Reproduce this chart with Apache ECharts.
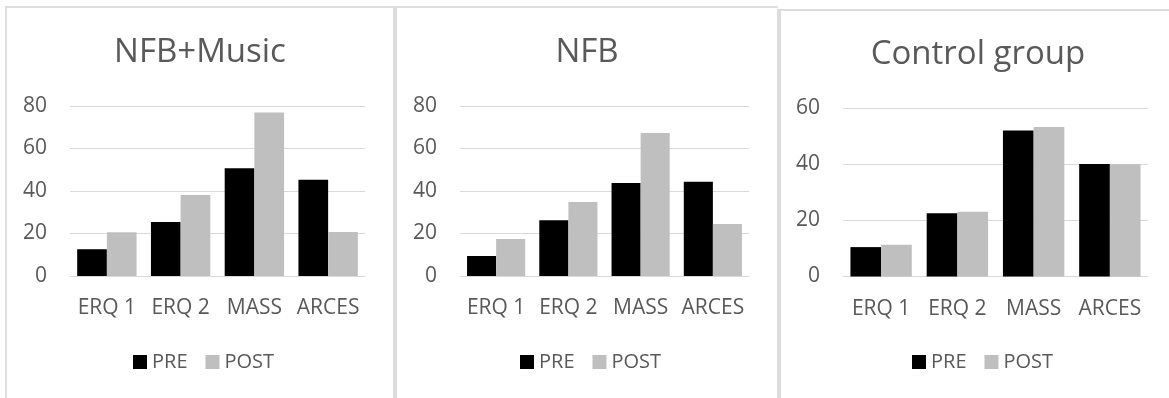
<!DOCTYPE html>
<html>
<head>
<meta charset="utf-8">
<script src="https://cdn.jsdelivr.net/npm/echarts@6/dist/echarts.min.js"></script>
<style>
  html, body { margin: 0; padding: 0; background: #fff; }
  #chart { width: 1169px; height: 398px; }
</style>
</head>
<body>
<div id="chart"></div>
<script>
const categories = ['ERQ 1', 'ERQ 2', 'MASS', 'ARCES'];
const panelTitles = ['NFB+Music', 'NFB', 'Control group'];
const seriesNames = ['PRE', 'POST'];

const nfbMusicPre  = [12.6, 25.4, 50.7, 45.3];
const nfbMusicPost = [20.6, 38.1, 77.0, 20.7];
const nfbPre       = [9.4, 26.2, 43.8, 44.4];
const nfbPost      = [17.4, 34.8, 67.3, 24.5];
const controlPre   = [10.5, 22.6, 52.1, 40.2];
const controlPost  = [11.3, 23.1, 53.4, 40.1];

const yMax = [80, 80, 60];
const yInterval = [20, 20, 20];

const panelData = [
  [nfbMusicPre, nfbMusicPost],
  [nfbPre, nfbPost],
  [controlPre, controlPost]
];

// layout (pixels)
const grids = [
  { left: 70,  top: 106,   width: 295, height: 170 },
  { left: 460, top: 106,   width: 289, height: 170 },
  { left: 843, top: 108.5, width: 305, height: 168 }
];
const titleCenters = [200, 587, 978];
const titleTops = [36, 36, 38];
const legendLefts = [133, 520, 912];

const FONT = '"Open Sans", "Noto Sans", sans-serif';
const TEXT = '#595959';
const GRIDC = '#d9d9d9';
const colors = ['#000000', '#bfbfbf'];

const option = {
  animation: false,
  backgroundColor: '#ffffff',
  textStyle: { fontFamily: FONT },
  title: panelTitles.map((t, i) => ({
    text: t,
    left: titleCenters[i],
    top: titleTops[i],
    textAlign: 'center',
    padding: 0,
    textStyle: { fontFamily: FONT, fontSize: 33, fontWeight: 'normal', color: TEXT }
  })),
  legend: [0, 1, 2].map(i => ({
    data: seriesNames,
    left: legendLefts[i],
    top: 352,
    padding: 0,
    icon: 'rect',
    itemWidth: 14,
    itemHeight: 14,
    itemGap: 18,
    selectedMode: false,
    textStyle: { fontFamily: FONT, fontSize: 20, color: TEXT }
  })),
  grid: grids.map(g => Object.assign({ containLabel: false }, g)),
  xAxis: [0, 1, 2].map(i => ({
    type: 'category',
    gridIndex: i,
    data: categories,
    axisLine: { show: true, lineStyle: { color: GRIDC, width: 1 } },
    axisTick: { show: false },
    axisLabel: { fontFamily: FONT, fontSize: 21, color: TEXT, margin: 22, interval: 0 }
  })),
  yAxis: [0, 1, 2].map(i => ({
    type: 'value',
    gridIndex: i,
    min: 0,
    max: yMax[i],
    interval: yInterval[i],
    axisLine: { show: false },
    axisTick: { show: false },
    splitLine: { lineStyle: { color: GRIDC, width: 1 } },
    axisLabel: { fontFamily: FONT, fontSize: 21, color: TEXT, margin: 23 }
  })),
  series: [],
  graphic: [
    { type: 'rect', shape: { x: 5, y: 7, width: 2, height: 391 }, style: { fill: '#dedede' }, silent: true },
    { type: 'rect', shape: { x: 5, y: 6, width: 773, height: 2 }, style: { fill: '#dedede' }, silent: true },
    { type: 'rect', shape: { x: 393, y: 7, width: 4, height: 391 }, style: { fill: '#dcdcdc' }, silent: true },
    { type: 'rect', shape: { x: 777, y: 9, width: 4, height: 389 }, style: { fill: '#dcdcdc' }, silent: true },
    { type: 'rect', shape: { x: 777, y: 9, width: 392, height: 2 }, style: { fill: '#dcdcdc' }, silent: true }
  ]
};

panelData.forEach((pair, i) => {
  pair.forEach((vals, s) => {
    option.series.push({
      name: seriesNames[s],
      type: 'bar',
      xAxisIndex: i,
      yAxisIndex: i,
      data: vals,
      barGap: '0%',
      barCategoryGap: '19.5%',
      itemStyle: { color: colors[s] }
    });
  });
});

const chart = echarts.init(document.getElementById('chart'), null, { renderer: 'canvas' });
chart.setOption(option);
</script>
</body>
</html>
